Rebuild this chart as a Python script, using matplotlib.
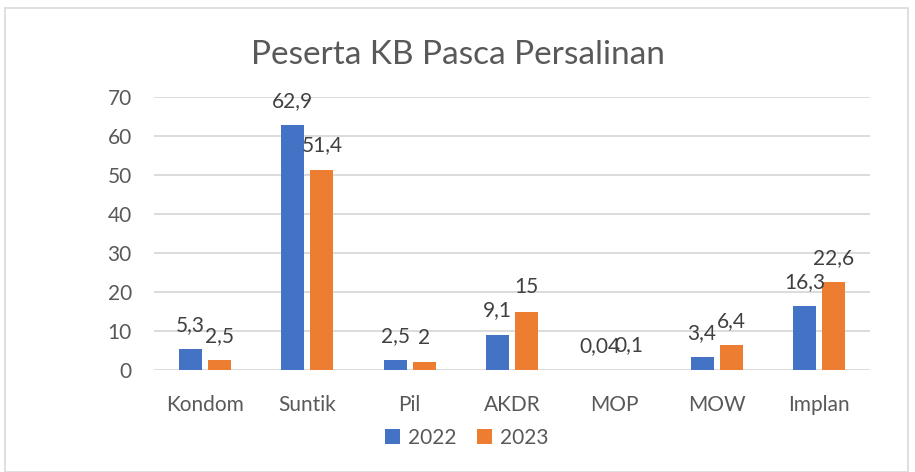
import numpy as np
import matplotlib.pyplot as plt
from matplotlib.patches import Rectangle

# Data
categories = ["Kondom", "Suntik", "Pil", "AKDR", "MOP", "MOW", "Implan"]
values_2022 = [5.3, 62.9, 2.5, 9.1, 0.04, 3.4, 16.3]
values_2023 = [2.5, 51.4, 2.0, 15, 0.1, 6.4, 22.6]
labels_2022 = ["5,3", "62,9", "2,5", "9,1", "0,04", "3,4", "16,3"]
labels_2023 = ["2,5", "51,4", "2", "15", "0,1", "6,4", "22,6"]
series_names = ["2022", "2023"]

BLUE = "#4472C4"
ORANGE = "#ED7D31"
GRAY_TEXT = "#595959"
GRID = "#D9D9D9"

plt.rcParams['font.family'] = ['Lato', 'DejaVu Sans']

fig = plt.figure(figsize=(9.15, 4.72), dpi=100)
ax = fig.add_axes([154 / 915, 1 - 370 / 472, (870 - 154) / 915, (370 - 97) / 472])

# outer chart border
fig.patches.append(Rectangle((5 / 915, 0), 903 / 915, 1 - 8 / 472, transform=fig.transFigure,
                             fill=False, edgecolor="#D9D9D9", linewidth=1.2))

x = np.arange(len(categories))
w = 0.225
off = 0.142
b1 = ax.bar(x - off, values_2022, w, color=BLUE, label=series_names[0], zorder=3)
b2 = ax.bar(x + off, values_2023, w, color=ORANGE, label=series_names[1], zorder=3)

for bars, labs in ((b1, labels_2022), (b2, labels_2023)):
    for rect, lab in zip(bars, labs):
        ax.annotate(lab, (rect.get_x() + rect.get_width() / 2, rect.get_height()),
                    xytext=(0, 13), textcoords="offset points", ha="center", va="baseline",
                    fontsize=15, color="#404040", zorder=4)

ax.set_xlim(-0.5, len(categories) - 0.5)
ax.set_ylim(0, 70)
ax.set_yticks(np.arange(0, 71, 10))
ax.yaxis.grid(True, color=GRID, linewidth=1.3, zorder=0)
ax.set_axisbelow(True)
for s in ax.spines.values():
    s.set_visible(False)
ax.tick_params(axis="both", length=0, labelsize=15, labelcolor=GRAY_TEXT)
ax.tick_params(axis="y", pad=16)
ax.tick_params(axis="x", pad=18)
ax.set_xticks(x)
ax.set_xticklabels(categories)

fig.text(0.5, 1 - 55 / 472, "Peserta KB Pasca Persalinan", ha="center", va="center",
         fontsize=24, color=GRAY_TEXT)

fig.legend(loc="center", bbox_to_anchor=(467 / 915, 1 - 438 / 472), ncol=2, frameon=False,
           fontsize=15, labelcolor=GRAY_TEXT, handlelength=0.7, handleheight=0.7,
           handletextpad=0.4, columnspacing=1.0)

fig.savefig("out.png", dpi=100)
